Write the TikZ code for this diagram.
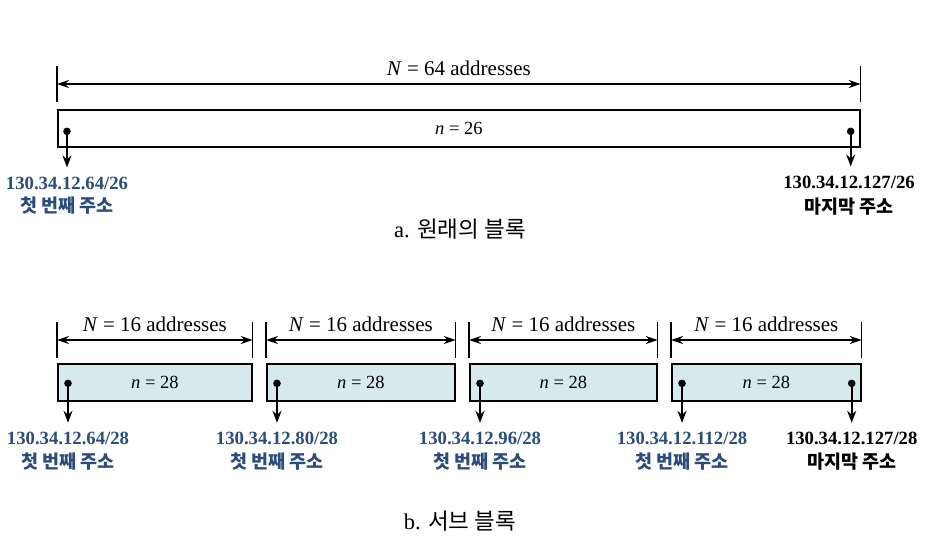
\documentclass[tikz,border=0pt]{standalone}
\usepackage{fontspec}
\setmainfont{Liberation Serif}
\newfontfamily\krfont{Noto Sans CJK KR}
\usetikzlibrary{arrows.meta}

\definecolor{addrblue}{RGB}{42,76,126}
\definecolor{subfill}{RGB}{214,234,236}

\tikzset{
  block/.style={draw, line width=1.7pt, minimum height=37pt, inner sep=0pt,
    anchor=north west, font=\fontsize{18.5}{20}\selectfont},
  dim/.style={{Stealth[length=12pt,width=8pt]}-{Stealth[length=12pt,width=8pt]}, line width=1.4pt},
  tick/.style={line width=1.3pt},
  pin/.style={-{Stealth[length=12pt,width=9pt]}, line width=1.6pt, shorten >=8pt},
  dimlabel/.style={above=8pt, inner sep=0pt, font=\fontsize{21}{24}\selectfont},
  addr/.style={inner sep=1pt, font=\fontsize{18.7}{20}\selectfont\bfseries},
  kor/.style={inner sep=1pt, font=\krfont\bfseries\fontsize{18.5}{20}\selectfont},
  caption/.style={font=\fontsize{22.5}{24}\selectfont}
}

\begin{document}
\begin{tikzpicture}[x=1pt, y=-1pt]
\useasboundingbox (0,0) rectangle (933,550);

% a. original block
\node[block, minimum width=802pt] (whole) at (57,109) {\textit{n} = 26};
\draw[tick] (whole.north west) ++(0,-7) coordinate (whole-dl) -- ++(0,-36);
\draw[tick] (whole.north east) ++(0,-7) coordinate (whole-dr) -- ++(0,-36);
\draw[dim] ([yshift=18pt]whole-dl) -- node[dimlabel] {\textit{N} = 64 addresses} ([yshift=18pt]whole-dr);

\coordinate (whole-first) at ([xshift=10pt,yshift=-3pt]whole.west);
\coordinate (whole-last) at ([xshift=-10pt,yshift=-3pt]whole.east);
\fill (whole-first) circle (3.8pt);
\fill (whole-last) circle (3.8pt);

\node[addr, text=addrblue] (whole-firstaddr) at (67,183) {130.34.12.64/26};
\node[kor, text=addrblue] (whole-firstname) at (67,206) {첫 번째 주소};
\node[addr] (whole-lastaddr) at (849,182) {130.34.12.127/26};
\node[kor] (whole-lastname) at (849,207) {마지막 주소};
\draw[pin] (whole-first) -- (whole-first |- whole-firstaddr.north);
\draw[pin] (whole-last) -- (whole-last |- whole-lastaddr.north);

\node[caption] (capa) at (460,229) {a. {\krfont 원래의 블록}};

% b. subblocks
\foreach \i/\xa/\xb/\addr in {1/57/251/64, 2/266/454/80, 3/469/656/96, 4/671/860/112} {
  \node[block, fill=subfill, minimum width={(\xb-\xa)*1pt}] (sub\i) at (\xa,363) {\textit{n} = 28};
  \draw[tick] (sub\i.north west) ++(0,-5) coordinate (sub\i-dl) -- ++(0,-36);
  \draw[tick] (sub\i.north east) ++(0,-5) coordinate (sub\i-dr) -- ++(0,-36);
  \draw[dim] ([yshift=18pt]sub\i-dl) -- node[dimlabel] {\textit{N} = 16 addresses} ([yshift=18pt]sub\i-dr);

  \coordinate (sub\i-first) at ([xshift=11pt,yshift=-1pt]sub\i.west);
  \fill (sub\i-first) circle (3.8pt);
  \node[addr, text=addrblue] (sub\i-addr) at ([yshift=-55pt]sub\i-first) {130.34.12.\addr/28};
  \node[kor, text=addrblue] (sub\i-name) at ([yshift=-78pt]sub\i-first) {첫 번째 주소};
  \draw[pin] (sub\i-first) -- (sub\i-addr.north);
}

\coordinate (sub4-last) at ([xshift=-10pt,yshift=-1pt]sub4.east);
\fill (sub4-last) circle (3.8pt);
\node[addr] (sub4-lastaddr) at ([yshift=-55pt]sub4-last) {130.34.12.127/28};
\node[kor] (sub4-lastname) at ([yshift=-78pt]sub4-last) {마지막 주소};
\draw[pin] (sub4-last) -- (sub4-lastaddr.north);

\node[caption] (capb) at (460,521) {b. {\krfont 서브 블록}};
\end{tikzpicture}
\end{document}
